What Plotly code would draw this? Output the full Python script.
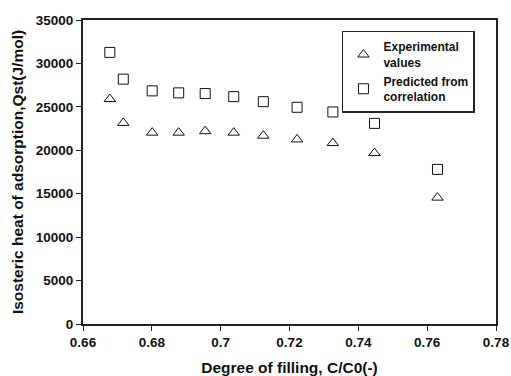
import plotly.graph_objects as go

fill_x = [0.6678, 0.6717, 0.6801, 0.6878, 0.6955, 0.7038, 0.7124, 0.7222, 0.7326, 0.7447, 0.7630]
experimental = [25900, 23150, 22030, 22030, 22200, 22030, 21680, 21250, 20830, 19680, 14550]
predicted = [31270, 28190, 26840, 26610, 26530, 26180, 25600, 24950, 24410, 23100, 17800]

x_ticks = [0.66, 0.68, 0.70, 0.72, 0.74, 0.76, 0.78]
x_tick_labels = ["0.66", "0.68", "0.7", "0.72", "0.74", "0.76", "0.78"]
y_ticks = list(range(0, 35001, 5000))
y_tick_labels = [str(v) for v in y_ticks]

fam = "Liberation Sans, Arial, sans-serif"

fig = go.Figure()
fig.add_trace(go.Scatter(x=fill_x, y=experimental, mode="markers", name="<b>Experimental<br>values</b>",
                         marker=dict(symbol="triangle-up-open", size=10, color="#111", line=dict(width=1))))
fig.add_trace(go.Scatter(x=fill_x, y=predicted, mode="markers", name="<b>Predicted from<br>correlation</b>",
                         marker=dict(symbol="square-open", size=10, color="#111", line=dict(width=1))))

axis_common = dict(showgrid=False, zeroline=False, showline=True, linecolor="#222", linewidth=2,
                   mirror=True, ticks="outside", ticklen=5, tickcolor="#222", tickwidth=1,
                   automargin=False,
                   tickfont=dict(family=fam, size=13.5, color="#111"))

fig.update_layout(
    width=511, height=376,
    margin=dict(l=83, r=15, t=20, b=52),
    paper_bgcolor="white", plot_bgcolor="white",
    font=dict(family=fam, color="#111", size=12),
    showlegend=True,
    legend=dict(x=0.627, y=0.964, xanchor="left", yanchor="top", bordercolor="#222", borderwidth=1.5,
                bgcolor="white", font=dict(size=12, color="#111"), tracegroupgap=0, itemwidth=30),
    xaxis=dict(range=[0.66, 0.78], tickvals=x_ticks,
               ticktext=[f"<b>{t}</b>" for t in x_tick_labels],
               title=dict(text="<b>Degree of filling, C/C0(-)</b>", font=dict(size=15.5), standoff=13),
               **axis_common),
    yaxis=dict(range=[0, 35000], tickvals=y_ticks,
               ticktext=[f"<b>{t}</b>" for t in y_tick_labels],
               title=dict(text="<b>Isosteric heat of adsorption,Qst(J/mol)</b>", font=dict(size=15.5), standoff=8),
               **axis_common),
)

fig.write_html("out.html", config={"displayModeBar": False},
               post_script="document.body.style.margin='0';document.body.style.overflow='hidden';")
